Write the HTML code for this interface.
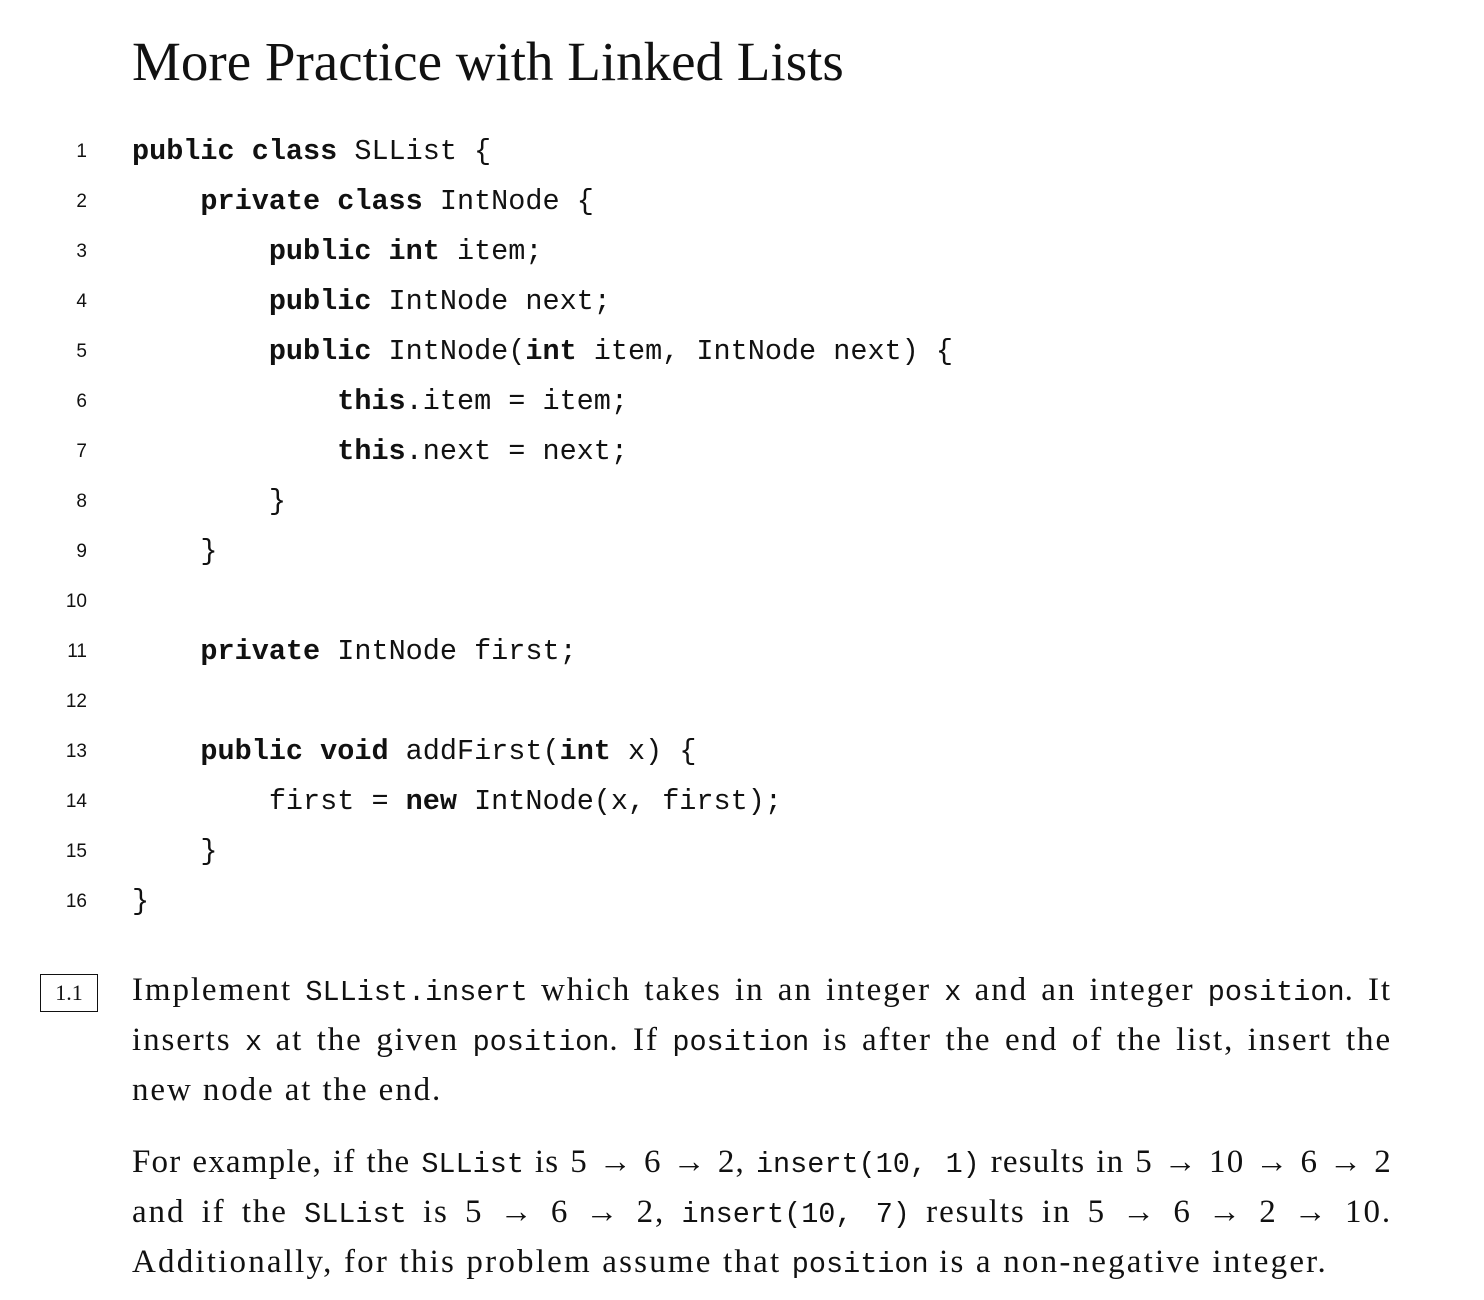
<!DOCTYPE html>
<html><head><meta charset="utf-8"><style>
body{margin:0;width:1484px;height:1300px;background:#fff;position:relative;overflow:hidden;color:#111}
.t{position:absolute;left:132px;top:22px;font-family:"Liberation Serif",serif;font-size:55px;line-height:80px;white-space:nowrap}
.n{position:absolute;width:87px;left:0;text-align:right;font-family:"Liberation Sans",sans-serif;font-size:19px;line-height:50px}
.c{position:absolute;left:132px;font-family:"Liberation Mono",monospace;font-size:28.5px;line-height:50px;white-space:pre}
.c b{font-weight:bold}
.p{position:absolute;left:132px;width:1260px;font-family:"Liberation Serif",serif;font-size:33px;letter-spacing:1.9px;line-height:50px;white-space:nowrap}
.j{text-align:justify;text-align-last:justify}
.p code{font-family:"Liberation Mono",monospace;font-size:28.5px;letter-spacing:0}
.box{position:absolute;left:40px;top:974px;width:56px;height:36px;border:1.5px solid #111;font-family:"Liberation Serif",serif;font-size:22px;line-height:36px;text-align:center}
</style></head><body>
<div class="t">More Practice with Linked Lists</div>
<div class="n" style="top:127px">1</div><div class="c" style="top:127px"><b>public class</b> SLList {</div>
<div class="n" style="top:177px">2</div><div class="c" style="top:177px">    <b>private class</b> IntNode {</div>
<div class="n" style="top:227px">3</div><div class="c" style="top:227px">        <b>public int</b> item;</div>
<div class="n" style="top:277px">4</div><div class="c" style="top:277px">        <b>public</b> IntNode next;</div>
<div class="n" style="top:327px">5</div><div class="c" style="top:327px">        <b>public</b> IntNode(<b>int</b> item, IntNode next) {</div>
<div class="n" style="top:377px">6</div><div class="c" style="top:377px">            <b>this</b>.item = item;</div>
<div class="n" style="top:427px">7</div><div class="c" style="top:427px">            <b>this</b>.next = next;</div>
<div class="n" style="top:477px">8</div><div class="c" style="top:477px">        }</div>
<div class="n" style="top:527px">9</div><div class="c" style="top:527px">    }</div>
<div class="n" style="top:577px">10</div>
<div class="n" style="top:627px">11</div><div class="c" style="top:627px">    <b>private</b> IntNode first;</div>
<div class="n" style="top:677px">12</div>
<div class="n" style="top:727px">13</div><div class="c" style="top:727px">    <b>public void</b> addFirst(<b>int</b> x) {</div>
<div class="n" style="top:777px">14</div><div class="c" style="top:777px">        first = <b>new</b> IntNode(x, first);</div>
<div class="n" style="top:827px">15</div><div class="c" style="top:827px">    }</div>
<div class="n" style="top:877px">16</div><div class="c" style="top:877px">}</div>
<div class="box">1.1</div>
<div class="p j" style="top:965px">Implement <code>SLList.insert</code> which takes in an integer <code>x</code> and an integer <code>position</code>. It</div>
<div class="p j" style="top:1015px">inserts <code>x</code> at the given <code>position</code>. If <code>position</code> is after the end of the list, insert the</div>
<div class="p" style="top:1065px">new node at the end.</div>
<div class="p j" style="top:1137px;letter-spacing:1.2px">For example, if the <code>SLList</code> is 5 → 6 → 2, <code>insert(10, 1)</code> results in 5 → 10 → 6 → 2</div>
<div class="p j" style="top:1187px">and if the <code>SLList</code> is 5 → 6 → 2, <code>insert(10, 7)</code> results in 5 → 6 → 2 → 10.</div>
<div class="p" style="top:1237px;letter-spacing:2.2px">Additionally, for this problem assume that <code>position</code> is a non-negative integer.</div>
</body></html>
